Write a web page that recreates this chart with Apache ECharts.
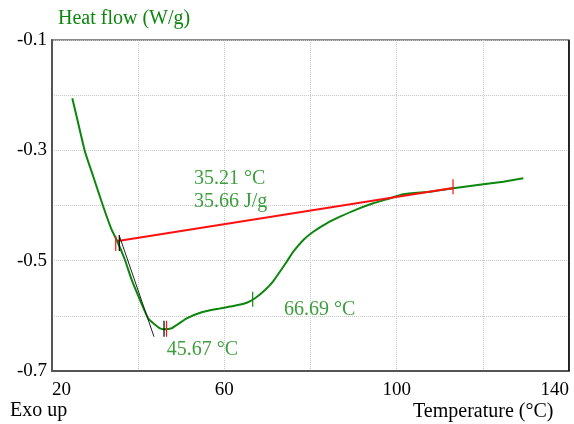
<!DOCTYPE html>
<html><head><meta charset="utf-8">
<script src="https://cdn.jsdelivr.net/npm/echarts@6/dist/echarts.min.js"></script>
<style>html,body{margin:0;padding:0;background:#fff}#c{width:574px;height:424px}</style>
</head><body><div id="c"></div>
<script>
// Heat flow curve (temperature °C, W/g)
const curveT = [24.71,25.73,27.66,29.59,31.91,33.86,35.02,36.94,38.50,40.43,42.28,43.51,45.07,46.23,47.78,48.94,51.27,54.75,58.23,62.08,65.19,67.12,69.44,71.37,74.48,76.01,78.33,80.65,83.76,86.85,90.73,94.58,97.69,101.54,107.74,113.15,120.11,124.75,129.40];
const curveH = [-0.2057,-0.2390,-0.3025,-0.3478,-0.4022,-0.4444,-0.4625,-0.4988,-0.5350,-0.5713,-0.6039,-0.6135,-0.6226,-0.6244,-0.6226,-0.6166,-0.6045,-0.5936,-0.5876,-0.5822,-0.5762,-0.5682,-0.5532,-0.5369,-0.5019,-0.4837,-0.4625,-0.4475,-0.4323,-0.4203,-0.4069,-0.3960,-0.3888,-0.3797,-0.3750,-0.3688,-0.3616,-0.3569,-0.3507];
// Integration baseline
const baseT = [35.32, 113.08];
const baseH = [-0.4643, -0.3683];
// Onset tangent
const tanT = [35.70, 43.68];
const tanH = [-0.4565, -0.6379];
// Marker ticks: [T, H top, H bottom]
const redTicks = [[34.79,-0.4553,-0.4825],[46.58,-0.6088,-0.6378],[113.08,-0.3525,-0.3797]];
const blackTicks = [[35.62,-0.4535,-0.4825],[46.00,-0.6088,-0.6378]];
const greenTicks = [[66.58,-0.5563,-0.5834]];
// Annotations
const annText = ['35.21 °C','35.66 J/g','45.67 °C','66.69 °C'];
const annT = [52.96, 52.96, 46.62, 73.85];
const annH = [-0.3514, -0.3936, -0.6614, -0.5894];
// Axes
const xMin = 20, xMax = 140, xStep = 20, xLabels = [20,60,100,140];
const yMin = -0.7, yMax = -0.1, yStep = 0.1, yLabels = [-0.1,-0.3,-0.5,-0.7];

const GREEN = '#0c860c', RED = '#ff1010';
const FONT = '"Liberation Serif","Times New Roman",serif';
const series = [];
series.push({type:'line', data: curveT.map((t,i)=>[t,curveH[i]]), symbol:'none', smooth:0.15,
  lineStyle:{color:GREEN,width:2}, z:3});
series.push({type:'line', data: baseT.map((t,i)=>[t,baseH[i]]), symbol:'none',
  lineStyle:{color:RED,width:2}, z:4});
series.push({type:'line', data: tanT.map((t,i)=>[t,tanH[i]]), symbol:'none',
  lineStyle:{color:'#222',width:1}, z:5});
function addTicks(arr,color){arr.forEach(a=>series.push({type:'line',data:[[a[0],a[1]],[a[0],a[2]]],symbol:'none',lineStyle:{color:color,width:1.2},z:6}));}
addTicks(redTicks,RED); addTicks(blackTicks,'#000'); addTicks(greenTicks,GREEN);
series.push({type:'scatter', data: annT.map((t,i)=>({value:[t,annH[i]], name:annText[i]})), symbolSize:0,
  label:{show:true, position:'right', distance:0, formatter:p=>p.name, color:GREEN, fontFamily:FONT, fontSize:20}, z:7});

const chart = echarts.init(document.getElementById('c'));
chart.setOption({
  animation:false,
  grid:{left:52,right:5,top:40,bottom:53,containLabel:false,outerBoundsMode:'none',show:true,borderColor:'#666',borderWidth:1.5},
  xAxis:{type:'value',min:xMin,max:xMax,interval:xStep,
    axisLine:{show:true,lineStyle:{color:'#555',width:2}},axisTick:{show:false},
    splitLine:{show:true,lineStyle:{color:'#c8c8c8',type:'dotted'}},
    axisLabel:{color:'#000',fontFamily:FONT,fontSize:19,margin:10,alignMinLabel:'left',alignMaxLabel:'right',
      formatter:v=>xLabels.includes(v)?String(v):''}},
  yAxis:{type:'value',min:yMin,max:yMax,interval:yStep,
    axisLine:{show:true,lineStyle:{color:'#555',width:2}},axisTick:{show:false},
    splitLine:{show:true,lineStyle:{color:'#c8c8c8',type:'dotted'}},
    axisLabel:{color:'#000',fontFamily:FONT,fontSize:19,margin:5,
      formatter:v=>{const r=Math.round(v*10)/10;return yLabels.some(l=>Math.abs(l-r)<1e-6)?r.toFixed(1):'';}}},
  graphic:[
    {type:'text',left:58,top:9,style:{text:'Heat flow (W/g)',fill:GREEN,font:'20px '+FONT}},
    {type:'text',left:10,top:401,style:{text:'Exo up',fill:'#000',font:'20px '+FONT}},
    {type:'text',left:413,top:402,style:{text:'Temperature (°C)',fill:'#000',font:'20px '+FONT}},
    {type:'line',shape:{x1:569,y1:40,x2:569,y2:371},style:{stroke:'#000',lineWidth:1.5},z:10}
  ],
  series
});
</script></body></html>
